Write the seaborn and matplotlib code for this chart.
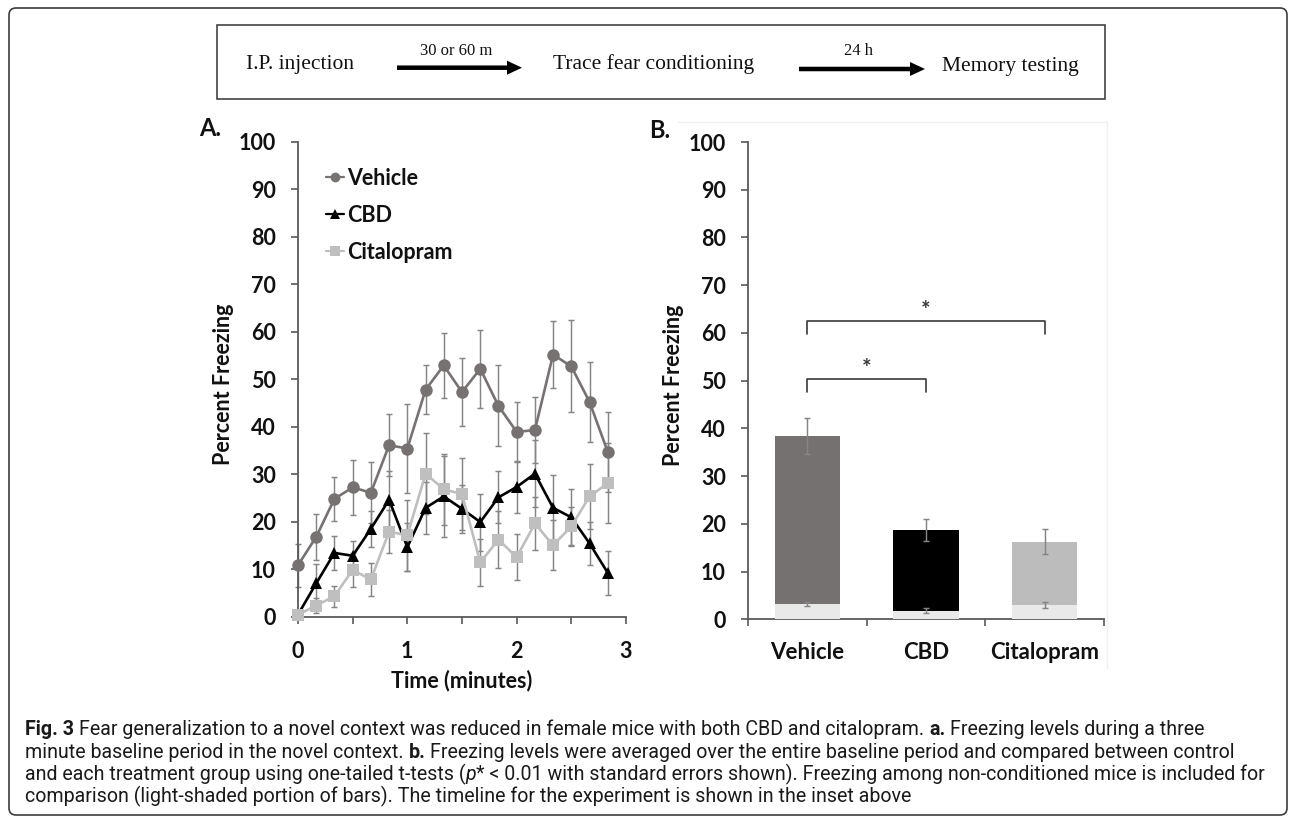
import numpy as np
import pandas as pd
import matplotlib
matplotlib.use("Agg")
import matplotlib.pyplot as plt
import seaborn as sns
from matplotlib.patches import Rectangle, FancyBboxPatch, FancyArrow
from matplotlib.lines import Line2D

# ---------------- data ----------------
time_min = [0.0, 0.167, 0.333, 0.5, 0.667, 0.833, 1.0, 1.167, 1.333,
            1.5, 1.667, 1.833, 2.0, 2.167, 2.333, 2.5, 2.667, 2.833]
vehicle_mean = [10.8, 16.8, 24.8, 27.2, 26.1, 36.1, 35.4, 47.8, 52.9,
                47.3, 52.2, 44.4, 38.9, 39.3, 55.2, 52.7, 45.2, 34.7]
vehicle_se = [4.5, 4.9, 4.6, 5.8, 6.4, 6.5, 9.3, 5.2, 6.8,
              7.2, 8.2, 8.5, 6.4, 7.0, 7.1, 9.7, 8.4, 8.5]
cbd_mean = [0.4, 7.0, 13.4, 12.8, 18.5, 24.6, 14.6, 22.9, 25.3,
            22.7, 19.9, 25.1, 27.3, 30.1, 22.9, 20.9, 15.4, 9.2]
cbd_se = [0.5, 4.0, 3.5, 3.2, 3.8, 6.0, 5.0, 5.5, 8.5,
          5.0, 6.0, 5.5, 5.5, 7.0, 7.0, 6.0, 4.5, 4.6]
cit_mean = [0.4, 2.3, 4.3, 9.8, 7.8, 17.9, 17.1, 30.1, 26.8,
            25.8, 11.4, 16.2, 12.5, 19.6, 15.0, 19.0, 25.3, 28.1]
cit_se = [0.5, 1.5, 2.2, 3.5, 3.5, 4.5, 7.5, 8.5, 7.5,
          7.5, 5.0, 6.0, 4.8, 5.5, 5.3, 4.0, 6.8, 8.5]

groups = ["Vehicle", "CBD", "Citalopram"]
x_tick_labels = ["0", "", "1", "", "2", "", "3"]

categories = ["Vehicle", "CBD", "Citalopram"]
total_mean = [38.4, 18.8, 16.3]
total_se = [3.7, 2.3, 2.6]
nonconditioned_mean = [3.2, 1.8, 3.0]
nonconditioned_se = [0.5, 0.5, 0.6]

# ---------------- style ----------------
sns.set_theme(style="white")
plt.rcParams["font.family"] = ["Lato", "DejaVu Sans"]
plt.rcParams["axes.unicode_minus"] = False

W, H = 1290, 818
fig = plt.figure(figsize=(W / 100, H / 100), dpi=100)
fig.patch.set_facecolor("white")

# background overlay in pixel coordinates
bg = fig.add_axes([0, 0, 1, 1])
bg.set_xlim(0, W)
bg.set_ylim(H, 0)
bg.axis("off")
bg.set_zorder(0)

line_colors = {"Vehicle": "#767272", "CBD": "#000000", "Citalopram": "#bfbfbf"}
markers = {"Vehicle": "o", "CBD": "^", "Citalopram": "s"}
msizes = {"Vehicle": 9.0, "CBD": 9.0, "Citalopram": 8.2}
bar_colors = {"Vehicle": "#767171", "CBD": "#000000", "Citalopram": "#bcbcbc"}
light_color = "#e9e9e9"
err_color = "#858585"
spine_color = "#595959"
text_color = "#111111"


def px_axes(l, r, t, b):
    return [l / W, 1 - b / H, (r - l) / W, (b - t) / H]


def style_axis(ax):
    for s in ["top", "right"]:
        ax.spines[s].set_visible(False)
    for s in ["left", "bottom"]:
        ax.spines[s].set_color(spine_color)
        ax.spines[s].set_linewidth(1.3)
    ax.set_facecolor("none")


# ---------------- panel A ----------------
ax1 = fig.add_axes(px_axes(298, 626, 142, 616.5))
ax1.set_zorder(2)
series = {
    "Vehicle": (vehicle_mean, vehicle_se),
    "CBD": (cbd_mean, cbd_se),
    "Citalopram": (cit_mean, cit_se),
}
for g in groups:
    m, se = series[g]
    ax1.errorbar(time_min, m, yerr=se, fmt="none", ecolor=err_color,
                 elinewidth=1.05, capsize=2.2, capthick=1.05, zorder=2,
                 clip_on=False)
for g in groups:
    m, se = series[g]
    dfA = pd.DataFrame({"time": time_min, "freezing": m})
    sns.lineplot(data=dfA, x="time", y="freezing", ax=ax1,
                 color=line_colors[g], marker=markers[g],
                 markersize=msizes[g], markeredgewidth=0, linewidth=1.9,
                 errorbar=None, sort=False, clip_on=False, zorder=3)

ax1.set_xlim(0, 3)
ax1.set_ylim(0, 100)
ax1.set_xticks([0, 0.5, 1, 1.5, 2, 2.5, 3])
ax1.set_xticklabels(x_tick_labels)
ax1.set_yticks(np.arange(0, 101, 10))
style_axis(ax1)
ax1.tick_params(axis="x", direction="out", length=5, width=1.2,
                color=spine_color, labelsize=15.5, pad=12.5,
                labelcolor=text_color, bottom=True)
ax1.tick_params(axis="y", direction="out", length=5, width=1.2,
                color=spine_color, labelsize=15.5, pad=11,
                labelcolor=text_color, left=True)
for lbl in ax1.get_xticklabels() + ax1.get_yticklabels():
    lbl.set_fontweight("bold")
ax1.set_xlabel("Time (minutes)", fontsize=15.5, fontweight="bold",
               color=text_color)
ax1.xaxis.set_label_coords((462 - 298) / 328, (616.5 - 681) / 474.5)
ax1.xaxis.label.set_va("center")
ax1.set_ylabel("Percent Freezing", fontsize=15.5, fontweight="bold",
               color=text_color)
ax1.yaxis.set_label_coords((223 - 298) / 328, 0.49)
ax1.yaxis.label.set_va("center")

handles = [Line2D([], [], color=line_colors[g], marker=markers[g],
                  markersize=7 if g != "Citalopram" else 6.5,
                  markeredgewidth=0, linewidth=1.6) for g in groups]
leg = ax1.legend(handles, groups, loc="upper left",
                 bbox_to_anchor=(326 / W, 1 - 168 / H),
                 bbox_transform=fig.transFigure, frameon=False,
                 handlelength=0.85, handletextpad=0.15, labelspacing=0.74,
                 borderpad=0, borderaxespad=0,
                 prop={"size": 15.5, "weight": "bold"})
for t in leg.get_texts():
    t.set_color(text_color)

# ---------------- panel B ----------------
ax2 = fig.add_axes(px_axes(748, 1104, 142, 619.3))
ax2.set_zorder(2)
dfB = pd.DataFrame({"group": categories, "total": total_mean,
                    "base": nonconditioned_mean})
sns.barplot(data=dfB, x="group", y="total", hue="group", order=categories,
            hue_order=categories, palette=bar_colors, width=0.55,
            saturation=1, linewidth=0, legend=False, ax=ax2, zorder=2)
sns.barplot(data=dfB, x="group", y="base", order=categories,
            color=light_color, width=0.55, saturation=1, linewidth=0,
            ax=ax2, zorder=3)
pos = np.arange(len(categories))
ax2.errorbar(pos, total_mean, yerr=total_se, fmt="none", ecolor=err_color,
             elinewidth=1.05, capsize=2.2, capthick=1.05, zorder=4)
ax2.errorbar(pos, nonconditioned_mean, yerr=nonconditioned_se, fmt="none",
             ecolor=err_color, elinewidth=1.05, capsize=2.2, capthick=1.05,
             zorder=4)

# significance brackets
br_color = "#3a3a3a"
ax2.plot([0, 0, 1, 1], [47.6, 50.3, 50.3, 47.6], color=br_color, lw=1.2,
         zorder=5, clip_on=False)
ax2.text(0.5, 52.6, "*", ha="center", va="center", fontsize=16,
         fontweight="bold", color=br_color)
ax2.plot([0, 0, 2, 2], [59.8, 62.4, 62.4, 59.8], color=br_color, lw=1.2,
         zorder=5, clip_on=False)
ax2.text(1.0, 64.6, "*", ha="center", va="center", fontsize=16,
         fontweight="bold", color=br_color)

ax2.set_xlim(-0.5, 2.5)
ax2.set_ylim(0, 100)
ax2.set_xticks(pos)
ax2.set_xticklabels(categories)
ax2.set_xticks([-0.5, 0.5, 1.5, 2.5], minor=True)
ax2.set_yticks(np.arange(0, 101, 10))
style_axis(ax2)
ax2.tick_params(axis="x", which="major", length=0, labelsize=16, pad=16,
                labelcolor=text_color)
ax2.tick_params(axis="x", which="minor", direction="out", length=5,
                width=1.2, color=spine_color, bottom=True)
ax2.tick_params(axis="y", direction="out", length=5, width=1.2,
                color=spine_color, labelsize=15.5, pad=11,
                labelcolor=text_color, left=True)
for lbl in ax2.get_xticklabels() + ax2.get_yticklabels():
    lbl.set_fontweight("bold")
ax2.set_xlabel("")
ax2.set_ylabel("Percent Freezing", fontsize=15.5, fontweight="bold",
               color=text_color)
ax2.yaxis.set_label_coords((673 - 748) / 356, 0.49)
ax2.yaxis.label.set_va("center")

# faint chart-area frame of panel B
bg.plot([678, 1107], [122, 122], color="#f0f0f0", lw=1.0)
bg.plot([1107, 1107], [122, 668], color="#f0f0f0", lw=1.0)

# panel letters
bg.text(199, 128, "A.", ha="left", va="center", fontsize=17,
        fontweight="bold", color=text_color)
bg.text(649, 130, "B.", ha="left", va="center", fontsize=17,
        fontweight="bold", color=text_color)

# ---------------- timeline inset ----------------
bg.add_patch(Rectangle((217, 25), 1105 - 217, 99 - 25, fill=False,
                       ec="#333333", lw=1.1))
serif = ["Liberation Serif", "DejaVu Serif"]
bg.text(246, 69.5, "I.P. injection", ha="left", va="baseline",
        fontsize=15.5, family=serif, color="#111111")
bg.text(553, 69.5, "Trace fear conditioning", ha="left", va="baseline",
        fontsize=15.5, family=serif, color="#111111")
bg.text(942, 71, "Memory testing", ha="left", va="baseline",
        fontsize=15.5, family=serif, color="#111111")
bg.text(456, 55, "30 or 60 m", ha="center", va="baseline", fontsize=12,
        family=serif, color="#111111")
bg.text(858, 55, "24 h", ha="center", va="baseline", fontsize=12,
        family=serif, color="#111111")
bg.add_patch(FancyArrow(397, 67.7, 125, 0, width=4.5, head_width=14,
                        head_length=15, length_includes_head=True,
                        color="black", lw=0))
bg.add_patch(FancyArrow(799, 69.0, 126, 0, width=4.5, head_width=14,
                        head_length=15, length_includes_head=True,
                        color="black", lw=0))

# ---------------- outer border ----------------
bg.add_patch(FancyBboxPatch((9, 8), 1278, 807,
                            boxstyle="round,pad=0,rounding_size=7",
                            fill=False, ec="#3c3c3c", lw=1.2))

# ---------------- caption ----------------
cap_family = ["Roboto", "DejaVu Sans"]
renderer = fig.canvas.get_renderer()


def seg_width(txt, size, weight, style):
    t1 = bg.text(0, 0, "|" + txt + "|", fontsize=size, fontweight=weight,
                 style=style, family=cap_family)
    t2 = bg.text(0, 0, "||", fontsize=size, fontweight=weight,
                 style=style, family=cap_family)
    w = t1.get_window_extent(renderer).width - \
        t2.get_window_extent(renderer).width
    t1.remove()
    t2.remove()
    return w


def draw_line(x, y, segs, size, draw=True):
    cur = x
    for txt, weight, style in segs:
        if draw and txt.strip():
            bg.text(cur, y, txt, fontsize=size, fontweight=weight,
                    style=style, family=cap_family, ha="left",
                    va="baseline", color="#1a1a1a")
        cur += seg_width(txt, size, weight, style)
    return cur - x


N, B, I = ("normal", "normal"), ("bold", "normal"), ("normal", "italic")
SP = (" ",) + N
cap_lines = [
    [("Fig. 3",) + B, SP,
     ("Fear generalization to a novel context was reduced in female mice "
      "with both CBD and citalopram.",) + N, SP, ("a.",) + B, SP,
     ("Freezing levels during a three",) + N],
    [("minute baseline period in the novel context.",) + N, SP,
     ("b.",) + B, SP,
     ("Freezing levels were averaged over the entire baseline period and "
      "compared between control",) + N],
    [("and each treatment group using one-tailed t-tests (",) + N,
     ("p",) + I,
     ("* < 0.01 with standard errors shown). Freezing among "
      "non-conditioned mice is included for",) + N],
    [("comparison (light-shaded portion of bars). The timeline for the "
      "experiment is shown in the inset above",) + N],
]
ref_w = draw_line(0, 0, cap_lines[2], 12, draw=False)
cap_size = 12 * (1265 - 25) / ref_w
for y, segs in zip([735, 757.5, 780, 802.5], cap_lines):
    draw_line(25, y, segs, cap_size)

fig.savefig("out.png", dpi=100, facecolor="white")
